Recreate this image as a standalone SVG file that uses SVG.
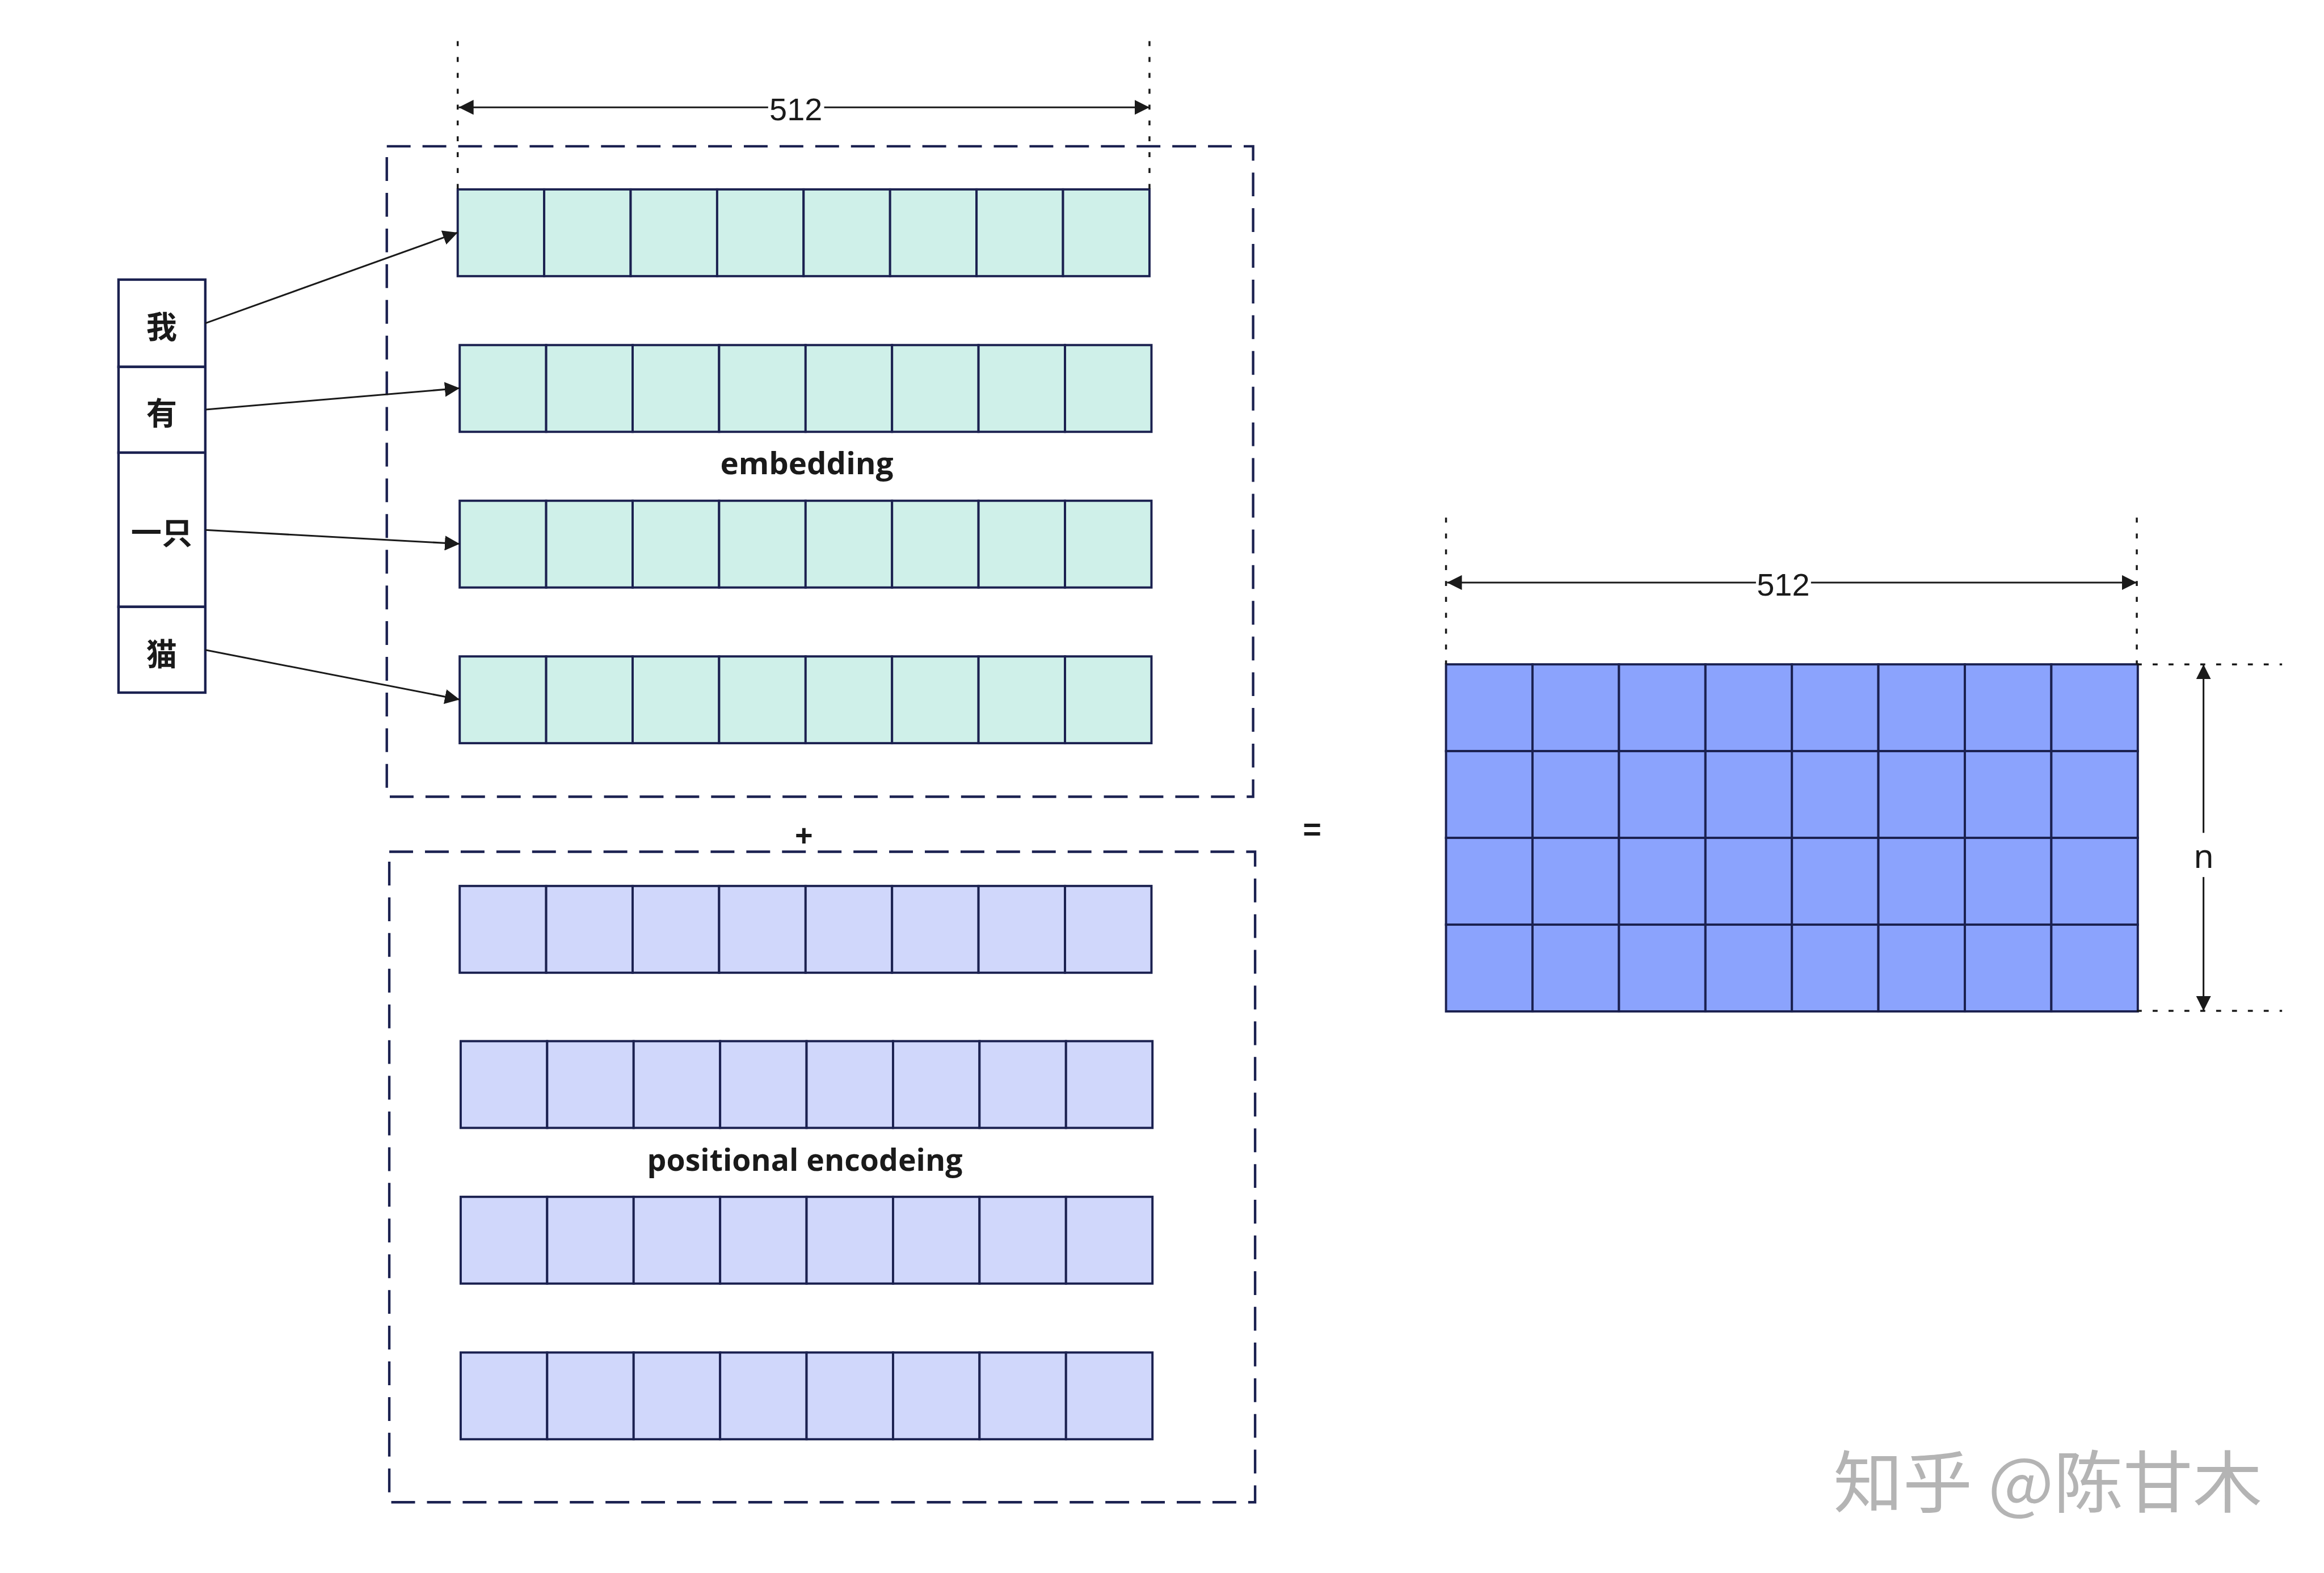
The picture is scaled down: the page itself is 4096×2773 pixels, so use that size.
<svg xmlns="http://www.w3.org/2000/svg" xmlns:xlink="http://www.w3.org/1999/xlink" width="4096" height="2773" viewBox="0 0 4096 2773">
<style>
.cell{stroke:#1b2150;stroke-width:4.5}
.emb{fill:#cff0e9}
.pos{fill:#d0d7fb}
.res{fill:#8ba3fd}
.tok{fill:#ffffff;stroke:#1b2150;stroke-width:5}
.box{fill:none;stroke:#1b2150;stroke-width:5;stroke-dasharray:48 24}
.dot{fill:none;stroke:#1a1a1a;stroke-width:4;stroke-dasharray:10 22}
.arr{fill:none;stroke:#1a1a1a;stroke-width:3.5}
.cjk{font-family:"Noto Sans CJK SC","Noto Sans CJK JP",sans-serif;font-weight:bold;font-size:62px;fill:#1a1a1a;text-anchor:middle}
.lbl{font-family:"Open Sans","Noto Sans",sans-serif;font-weight:bold;font-size:62px;fill:#1a1a1a;text-anchor:middle}
.dim{font-family:"Liberation Sans",Arial,sans-serif;font-size:64px;fill:#1a1a1a;text-anchor:middle}
.sym{font-family:"Liberation Sans",Arial,sans-serif;fill:#1a1a1a;text-anchor:middle}
.wm{font-family:"Noto Sans CJK SC",sans-serif;font-size:136px;fill:#b4b4b4}
</style>
<defs>
<marker id="ah" viewBox="0 0 30 30" refX="30" refY="15" markerWidth="30" markerHeight="30" markerUnits="userSpaceOnUse" orient="auto-start-reverse">
<path d="M0,0 L30,15 L0,30 z" fill="#1a1a1a"/>
</marker>
<g id="row8">
<rect x="0" y="0" width="174.375" height="175"/>
<rect x="174.375" y="0" width="174.375" height="175"/>
<rect x="348.75" y="0" width="174.375" height="175"/>
<rect x="523.125" y="0" width="174.375" height="175"/>
<rect x="697.5" y="0" width="174.375" height="175"/>
<rect x="871.875" y="0" width="174.375" height="175"/>
<rect x="1046.25" y="0" width="174.375" height="175"/>
<rect x="1220.625" y="0" width="174.375" height="175"/>
</g>
</defs>
<rect width="4096" height="2773" fill="#ffffff"/>
<g transform="scale(0.874)">

<!-- containers -->
<g id="embedding-box">
<rect class="box" x="780" y="295" width="1747" height="1312"/>
<text class="lbl" x="1627" y="956" textLength="349" lengthAdjust="spacingAndGlyphs">embedding</text>
</g>
<g id="positional-box">
<rect class="box" x="785" y="1718" width="1746" height="1312"/>
<text class="lbl" x="1623" y="2361" textLength="636" lengthAdjust="spacingAndGlyphs">positional encodeing</text>
</g>

<!-- embedding rows -->
<g id="emb-row-1"><use xlink:href="#row8" href="#row8" class="cell emb" x="923" y="382"/></g>
<g id="emb-row-2"><use xlink:href="#row8" href="#row8" class="cell emb" x="927" y="696"/></g>
<g id="emb-row-3"><use xlink:href="#row8" href="#row8" class="cell emb" x="927" y="1010"/></g>
<g id="emb-row-4"><use xlink:href="#row8" href="#row8" class="cell emb" x="927" y="1324"/></g>

<!-- positional rows -->
<g id="pos-row-1"><use xlink:href="#row8" href="#row8" class="cell pos" x="927" y="1787"/></g>
<g id="pos-row-2"><use xlink:href="#row8" href="#row8" class="cell pos" x="929" y="2100"/></g>
<g id="pos-row-3"><use xlink:href="#row8" href="#row8" class="cell pos" x="929" y="2414"/></g>
<g id="pos-row-4"><use xlink:href="#row8" href="#row8" class="cell pos" x="929" y="2728"/></g>

<!-- tokens -->
<g id="tok-wo"><rect class="tok" x="239" y="564" width="175" height="176"/><text class="cjk" x="326" y="682">我</text></g>
<g id="tok-you"><rect class="tok" x="239" y="740" width="175" height="173"/><text class="cjk" x="326" y="856">有</text></g>
<g id="tok-yizhi"><rect class="tok" x="239" y="913" width="175" height="311"/><text class="cjk" x="326" y="1097">一只</text></g>
<g id="tok-mao"><rect class="tok" x="239" y="1224" width="175" height="173"/><text class="cjk" x="326" y="1342">猫</text></g>

<!-- operators -->
<g id="plus"><text class="sym" x="1621" y="1706" font-size="62" font-weight="bold">+</text></g>
<g id="equals"><text class="sym" x="2646" y="1695" font-size="64" font-weight="bold">=</text></g>

<!-- result matrix -->
<g id="result">
<use xlink:href="#row8" href="#row8" class="cell res" x="2916" y="1340"/>
<use xlink:href="#row8" href="#row8" class="cell res" x="2916" y="1515"/>
<use xlink:href="#row8" href="#row8" class="cell res" x="2916" y="1690"/>
<use xlink:href="#row8" href="#row8" class="cell res" x="2916" y="1865"/>
</g>

<!-- dimension annotations -->
<g id="dim-top">
<line class="dot" x1="923" y1="83" x2="923" y2="382"/>
<line class="dot" x1="2318" y1="83" x2="2318" y2="382"/>
<line class="arr" x1="1549" y1="216.5" x2="925" y2="216.5" marker-end="url(#ah)"/>
<line class="arr" x1="1662" y1="216.5" x2="2318" y2="216.5" marker-end="url(#ah)"/>
<text class="dim" x="1605" y="243">512</text>
</g>
<g id="dim-right-width">
<line class="dot" x1="2916" y1="1044" x2="2916" y2="1340"/>
<line class="dot" x1="4309" y1="1044" x2="4309" y2="1340"/>
<line class="arr" x1="3541" y1="1175" x2="2918" y2="1175" marker-end="url(#ah)"/>
<line class="arr" x1="3652" y1="1175" x2="4309" y2="1175" marker-end="url(#ah)"/>
<text class="dim" x="3596" y="1201">512</text>
</g>
<g id="dim-right-height">
<line class="dot" x1="4309" y1="1340" x2="4602" y2="1340"/>
<line class="dot" x1="4309" y1="2039" x2="4602" y2="2039"/>
<line class="arr" x1="4443.5" y1="1680" x2="4443.5" y2="1340" marker-end="url(#ah)"/>
<line class="arr" x1="4443.5" y1="1769" x2="4443.5" y2="2039" marker-end="url(#ah)"/>
<text x="4444" y="1751" font-family="Noto Sans, Open Sans, sans-serif" font-size="66" fill="#1a1a1a" text-anchor="middle">n</text>
</g>

<!-- connectors -->
<g id="connectors">
<line class="arr" x1="414" y1="652" x2="923" y2="469" marker-end="url(#ah)"/>
<line class="arr" x1="415" y1="826" x2="927" y2="783" marker-end="url(#ah)"/>
<line class="arr" x1="414" y1="1069" x2="927" y2="1097" marker-end="url(#ah)"/>
<line class="arr" x1="414" y1="1311" x2="927" y2="1411" marker-end="url(#ah)"/>
</g>

<!-- watermark -->
<g id="watermark">
<text class="wm" x="3697" y="3040" textLength="865" lengthAdjust="spacingAndGlyphs">知乎 @陈甘木</text>
</g>
</g>
</svg>
